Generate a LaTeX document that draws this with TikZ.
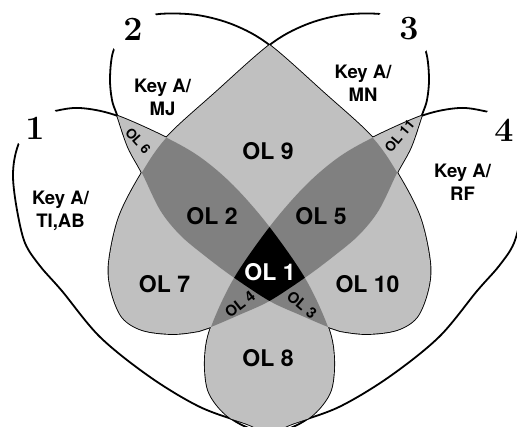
\documentclass[tikz,border=0pt]{standalone}
\usepackage{fontspec}
\newfontfamily\arialfont{TeX Gyre Heros}
\definecolor{lightg}{HTML}{C0C0C0}
\definecolor{darkg}{HTML}{808080}
\def\SA{plot[smooth cycle, tension=0.55] coordinates {(270,433) (247,424) (200,407) (150,377) (100,337) (62,291) (40,266) (25,243) (17,210) (13,177) (16,152) (26,128) (40,116) (55,111) (80,108) (115,115) (165,137) (200,157) (233,185) (268,225) (305,278) (328,327) (334,358) (331,390) (316,412) (295,426)}}
\def\SB{plot[smooth cycle, tension=0.55] coordinates {(110,78) (113,52) (124,33) (140,21) (159,14) (197,15) (234,25) (269.5,45) (324,93) (372,137) (398,174) (420,217) (430,262) (428,290) (417,317) (397,330) (367,334) (340,331) (328,327) (300,315) (269.5,301) (233,277) (205,256) (180,235) (160,210) (142,173) (128,147) (117,115) (112,100)}}
\tikzset{
  mir/.style={xshift=539pt, xscale=-1},
  outline/.style={draw=black, line width=1.8pt, line join=round},
  keylbl/.style={font=\arialfont\bfseries\fontsize{18.5}{23}\selectfont, align=center, inner sep=0pt},
  ollbl/.style={font=\arialfont\bfseries\fontsize{23}{27}\selectfont, inner sep=0pt},
  olsmall/.style={font=\arialfont\bfseries\fontsize{13.5}{16}\selectfont, inner sep=0pt},
  olmid/.style={font=\arialfont\bfseries\fontsize{15}{18}\selectfont, inner sep=0pt},
  numlbl/.style={font=\rmfamily\bfseries\fontsize{34}{38}\selectfont, inner sep=0pt},
}
\begin{document}
\begin{tikzpicture}[x=1pt, y=-1pt]
\fill[white] (0,0) rectangle (517,427);
\useasboundingbox (0,0) rectangle (517,427);
% outlines
\draw[outline] \SA;
\draw[outline, mir] \SA;
\draw[outline] \SB;
\draw[outline, mir] \SB;
% pairwise overlaps
\begin{scope}\clip \SA; \fill[lightg] \SB; \end{scope}
\begin{scope}\clip \SA; \fill[lightg, mir] \SB; \end{scope}
\begin{scope}\clip \SA; \fill[lightg, mir] \SA; \end{scope}
\begin{scope}\clip \SB; \fill[lightg, mir] \SB; \end{scope}
\begin{scope}\clip \SB; \fill[lightg, mir] \SA; \end{scope}
\begin{scope}\clip[mir] \SB; \fill[lightg, mir] \SA; \end{scope}
% triple overlaps
\begin{scope}\clip \SA; \clip \SB; \fill[darkg, mir] \SB; \end{scope}
\begin{scope}\clip \SA; \clip \SB; \fill[darkg, mir] \SA; \end{scope}
\begin{scope}\clip \SA; \clip[mir] \SB; \fill[darkg, mir] \SA; \end{scope}
\begin{scope}\clip \SB; \clip[mir] \SB; \fill[darkg, mir] \SA; \end{scope}
% all four
\begin{scope}\clip \SA; \clip \SB; \clip[mir] \SB; \fill[black, mir] \SA; \end{scope}
% gaps behind set numbers
\fill[white] (36,126) circle[radius=24.5pt];
\fill[white] (135,32) circle[radius=27pt];
\fill[white] (404,31) circle[radius=29.5pt];
\fill[white] (505,128) circle[radius=24pt];
% set numbers
\node[numlbl] (n1) at (35,128) {1};
\node[numlbl] (n2) at (133,29) {2};
\node[numlbl] (n3) at (409,29) {3};
\node[numlbl] (n4) at (504,130) {4};
% key labels
\node[keylbl] (k1) at (60.5,211) {Key A/\\TI,AB};
\node[keylbl] (k2) at (162.5,97) {Key A/\\MJ};
\node[keylbl] (k3) at (363,83) {Key A/\\MN};
\node[keylbl] (k4) at (462.5,182) {Key A/\\RF};
% overlap labels
\node[ollbl] (o9) at (268,151) {OL 9};
\node[ollbl] (o2) at (212,216) {OL 2};
\node[ollbl] (o5) at (321,216) {OL 5};
\node[ollbl, text=white] (o1) at (270,272) {OL 1};
\node[ollbl] (o7) at (164.5,284) {OL 7};
\node[ollbl] (o10) at (367.5,284) {OL 10};
\node[ollbl] (o8) at (268,358) {OL 8};
\node[olsmall, rotate=-48] (o6) at (138,141) {OL 6};
\node[olsmall, rotate=50] (o11) at (399.5,136) {OL 11};
\node[olmid, rotate=38] (o4) at (240,304) {OL 4};
\node[olmid, rotate=-40] (o3) at (302,305) {OL 3};
\end{tikzpicture}
\end{document}
